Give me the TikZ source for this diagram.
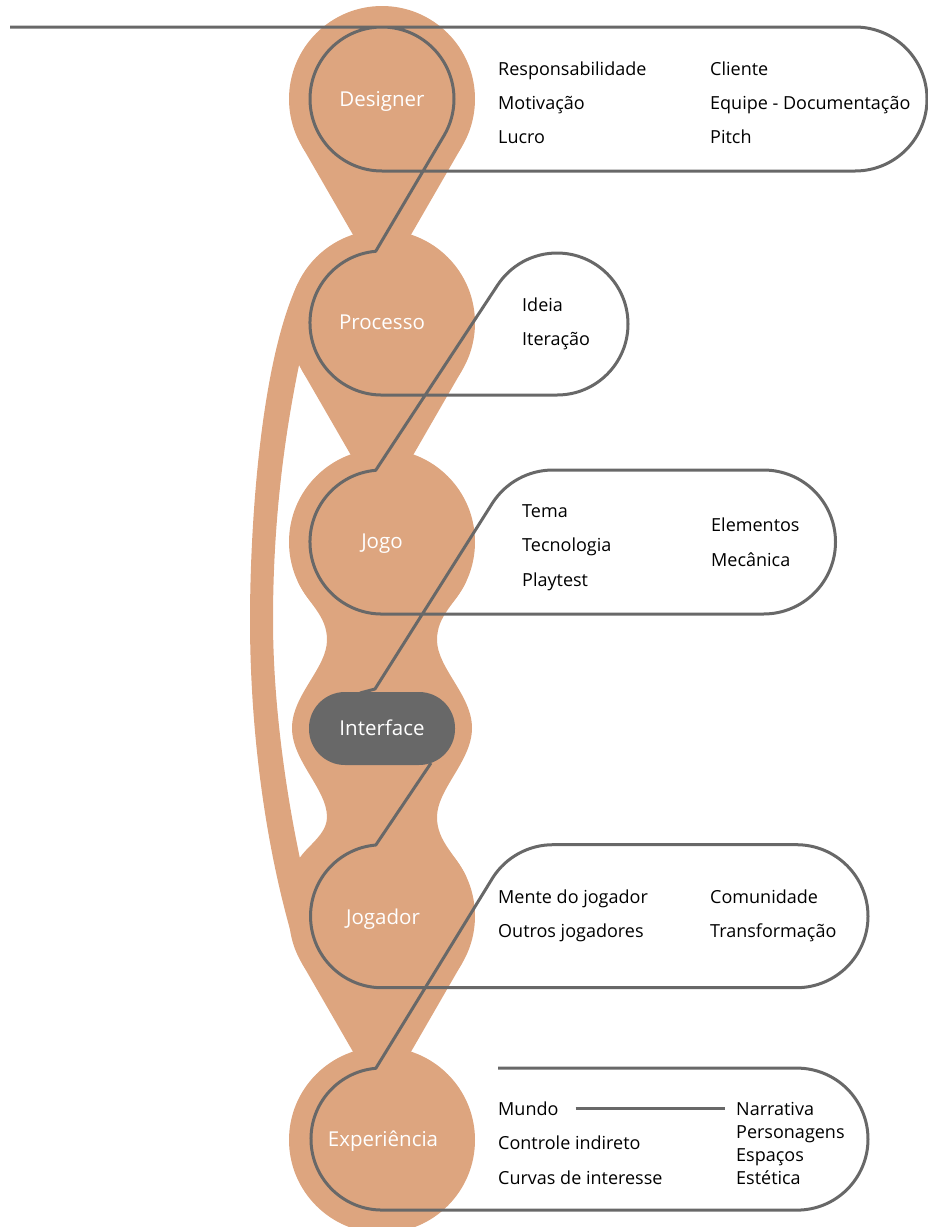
\documentclass[tikz,border=0pt]{standalone}
\usepackage{fontspec}
\setmainfont{Open Sans}
\begin{document}
\begin{tikzpicture}[x=1pt,y=-1pt]
\definecolor{peach}{RGB}{221,165,127}
\definecolor{ln}{RGB}{104,104,104}
\tikzset{
  gline/.style={draw=ln, line width=3pt, line join=round},
  lbl/.style={text=white, font=\fontsize{20.5}{24}\selectfont, anchor=base, inner sep=0pt},
  item/.style={text=black, font=\fontsize{18}{22}\selectfont, anchor=base west, inner sep=0pt},
}
\useasboundingbox (0,0) rectangle (927,1227);
% ---------------- orange body ----------------
\fill[peach] (382,99) circle[radius=93];
\fill[peach] (382,323) circle[radius=93];
\fill[peach] (382,542) circle[radius=93];
\fill[peach] (382,916) circle[radius=93];
\fill[peach] (382,1140) circle[radius=93];
% tails
\fill[peach] (301.5,145.5) -- (462.5,145.5) -- (402.2,250) -- (361.8,250) -- cycle;
\fill[peach] (301.5,369.5) -- (462.5,369.5) -- (402.2,474) -- (361.8,474) -- cycle;
\fill[peach] (301.5,962.5) -- (462.5,962.5) -- (402.2,1067) -- (361.8,1067) -- cycle;
% wavy part around Interface
\fill[peach] (297.7,581.3) .. controls (308.3,603.9) and (327,615) .. (327,640)
  .. controls (327,668) and (292,695) .. (292,728)
  .. controls (292,761) and (327,789) .. (327,817)
  .. controls (327,842) and (287.1,854) .. (297.7,876.7)
  -- (466.3,876.7)
  .. controls (455.7,854) and (437,842) .. (437,817)
  .. controls (437,789) and (472,761) .. (472,728)
  .. controls (472,695) and (437,668) .. (437,640)
  .. controls (437,615) and (455.7,603.9) .. (466.3,581.3) -- cycle;
% left band
\fill[peach] (297.7,283.7) .. controls (259.6,365.2) and (250,530) .. (250,620)
  .. controls (250,730) and (265,840) .. (289.9,928.9)
  -- (302,868)
  .. controls (285,790) and (273,700) .. (273,620)
  .. controls (273,500) and (290,410) .. (299,365) -- cycle;
% ---------------- interface pill ----------------
\fill[ln, rounded corners=36pt] (309,692) rectangle (455,765);
% ---------------- grey line ----------------
\draw[gline] (10,27) -- (855,27) arc[start angle=-90,end angle=90,radius=72]
  -- (382,171) arc[start angle=90,end angle=390,radius=72]
  -- (375.7,251.3) arc[start angle=265,end angle=90,radius=72]
  -- (557,395) arc[start angle=90,end angle=-147,radius=71]
  -- (375.7,470.3) arc[start angle=265,end angle=90,radius=72]
  -- (763.5,614) arc[start angle=90,end angle=-90,radius=72]
  -- (553,470) arc[start angle=-90,end angle=-147,radius=72]
  -- (375,689) -- (360,693);
\draw[gline] (431,763) -- (375.8,845) arc[start angle=265,end angle=90,radius=71.5]
  -- (796.5,987.7) arc[start angle=90,end angle=-90,radius=71.5]
  -- (553,844.7) arc[start angle=-90,end angle=-147,radius=71.5]
  -- (375.8,1068.3) arc[start angle=265,end angle=90,radius=71]
  -- (797,1210.1) arc[start angle=90,end angle=-90,radius=71]
  -- (498,1068.1);
% ---------------- labels ----------------
\node[lbl] (designer) at (382,106) {Designer};
\node[lbl] (processo) at (382,329.5) {Processo};
\node[lbl] (jogo) at (382,548.5) {Jogo};
\node[lbl] (interface) at (382,735) {Interface};
\node[lbl] (jogador) at (383,924) {Jogador};
\node[lbl] (experiencia) at (383,1146) {Experiência};
% ---------------- items ----------------
\node[item] (d1) at (498,75) {Responsabilidade};
\node[item] (d2) at (498,109) {Motivação};
\node[item] (d3) at (498,143) {Lucro};
\node[item] (d4) at (710,75) {Cliente};
\node[item] (d5) at (710,109) {Equipe - Documentação};
\node[item] (d6) at (710,143) {Pitch};
\node[item] (p1) at (522,311) {Ideia};
\node[item] (p2) at (522,345) {Iteração};
\node[item] (j1) at (522,517) {Tema};
\node[item] (j2) at (522,551) {Tecnologia};
\node[item] (j3) at (522,586) {Playtest};
\node[item] (j4) at (711,531.5) {Elementos};
\node[item] (j5) at (711,566.5) {Mecânica};
\node[item] (g1) at (498,903) {Mente do jogador};
\node[item] (g2) at (498,937) {Outros jogadores};
\node[item] (g3) at (710,903) {Comunidade};
\node[item] (g4) at (710,937) {Transformação};
\node[item] (mundo) at (498,1115) {Mundo};
\node[item] (e2) at (498,1149) {Controle indireto};
\node[item] (e3) at (498,1184) {Curvas de interesse};
\node[item] (narr) at (736,1115) {Narrativa};
\node[item] (e5) at (736,1138) {Personagens};
\node[item] (e6) at (736,1161) {Espaços};
\node[item] (e7) at (736,1184) {Estética};
\draw[gline] ([xshift=17pt]mundo.east) -- ([xshift=-11pt]narr.west |- mundo.east);
\end{tikzpicture}
\end{document}
